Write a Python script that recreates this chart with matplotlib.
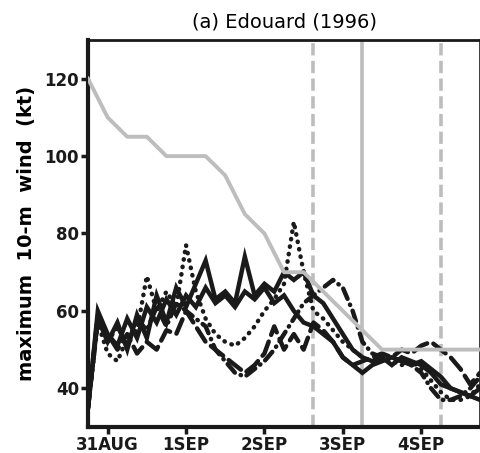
import matplotlib
matplotlib.use("Agg")
import matplotlib.pyplot as plt

# hours relative to 31AUG 00Z, 3-hourly ensemble output
hours = list(range(-6, 115, 3))

# best-track (observed) intensity, 6-hourly
obs_hours = [-6, 0, 6, 12, 18, 24, 30, 36, 42, 48, 54, 60, 66, 72, 78, 84, 90, 96, 102, 108, 114]
obs_wind = [120, 110, 105, 105, 100, 100, 100, 95, 85, 80, 70, 70, 65, 60, 55, 50, 50, 50, 50, 50, 50]

# ensemble members (kt)
mem_solid = [35, 58, 52, 57, 50, 59, 53, 64, 57, 66, 61, 67, 73, 63, 65, 62, 74, 64, 67, 65,
             70, 68, 70, 64, 62, 58, 54, 50, 48, 47, 48, 46, 48, 47, 46, 44, 41, 40, 39, 38, 40]
mem_dot = [35, 57, 49, 47, 53, 55, 69, 60, 65, 61, 77, 65, 58, 54, 52, 51, 53, 56, 60, 63,
           67, 83, 70, 60, 58, 55, 52, 50, 48, 47, 48, 47, 46, 47, 45, 42, 39, 37, 37, 38, 41]
mem_dashdot = [35, 59, 52, 56, 51, 58, 55, 61, 56, 62, 60, 58, 56, 50, 47, 44, 43, 45, 47, 50,
               54, 58, 62, 64, 66, 68, 66, 60, 52, 49, 48, 48, 47, 46, 44, 40, 37, 37, 38, 40, 43]
mem_dash = [35, 58, 54, 50, 54, 49, 52, 50, 55, 54, 60, 56, 52, 50, 48, 46, 44, 46, 49, 56,
            50, 54, 50, 57, 55, 52, 48, 46, 47, 48, 49, 48, 50, 49, 51, 52, 50, 48, 45, 41, 44]
mem_solid2 = [35, 60, 54, 51, 58, 53, 61, 57, 63, 59, 64, 61, 66, 62, 64, 61, 65, 63, 66, 62,
              64, 60, 57, 56, 54, 52, 48, 46, 44, 46, 47, 48, 47, 46, 47, 45, 43, 40, 39, 38, 37]

# vertical marker times (hours from 31AUG 00Z)
dashed_marks = [63, 102]
solid_marks = [78]

tick_hours = [0, 24, 48, 72, 96]
tick_labels = ["31AUG", "1SEP", "2SEP", "3SEP", "4SEP"]

GREY = "#bdbdbd"
BLACK = "#1a1a1a"

fig = plt.figure(figsize=(4.81, 4.53), dpi=100)
ax = fig.add_axes([0.183, 0.0574, 0.815, 0.8543])

for h in dashed_marks:
    ax.axvline(h, color=GREY, lw=2.6, dashes=(3.4, 1.5), zorder=1)
for h in solid_marks:
    ax.axvline(h, color=GREY, lw=2.6, zorder=1)

styles = [
    (mem_solid, "-"),
    (mem_solid2, "-"),
    (mem_dot, (0, (0.1, 1.6))),
    (mem_dashdot, (0, (2.5, 1.4, 0.1, 1.4))),
    (mem_dash, (0, (3.5, 1.6))),
]
for vals, ls in styles:
    ax.plot(hours, vals, color=BLACK, lw=3.2, linestyle=ls,
            dash_capstyle="round", solid_joinstyle="miter", zorder=2)

ax.plot(obs_hours, obs_wind, color=GREY, lw=2.8, zorder=3)

ax.set_xlim(-6, 114)
ax.set_ylim(30, 130)
ax.set_yticks([40, 60, 80, 100, 120])
ax.set_xticks(tick_hours)
ax.set_xticklabels(tick_labels)

for lab in ax.get_xticklabels() + ax.get_yticklabels():
    lab.set_fontweight("bold")
    lab.set_fontsize(12)

ax.tick_params(axis="both", direction="out", length=5, width=2.5, colors=BLACK, pad=1.5)
ax.spines["left"].set_linewidth(3)
ax.spines["bottom"].set_linewidth(3)
ax.spines["top"].set_linewidth(2)
ax.spines["right"].set_linewidth(1.2)
for s in ax.spines.values():
    s.set_color(BLACK)

ax.set_ylabel("maximum  10-m  wind  (kt)", fontsize=14, fontweight="bold", labelpad=6)
ax.set_title("(a) Edouard (1996)", fontsize=14, pad=9)

fig.savefig("out.png", dpi=100)
